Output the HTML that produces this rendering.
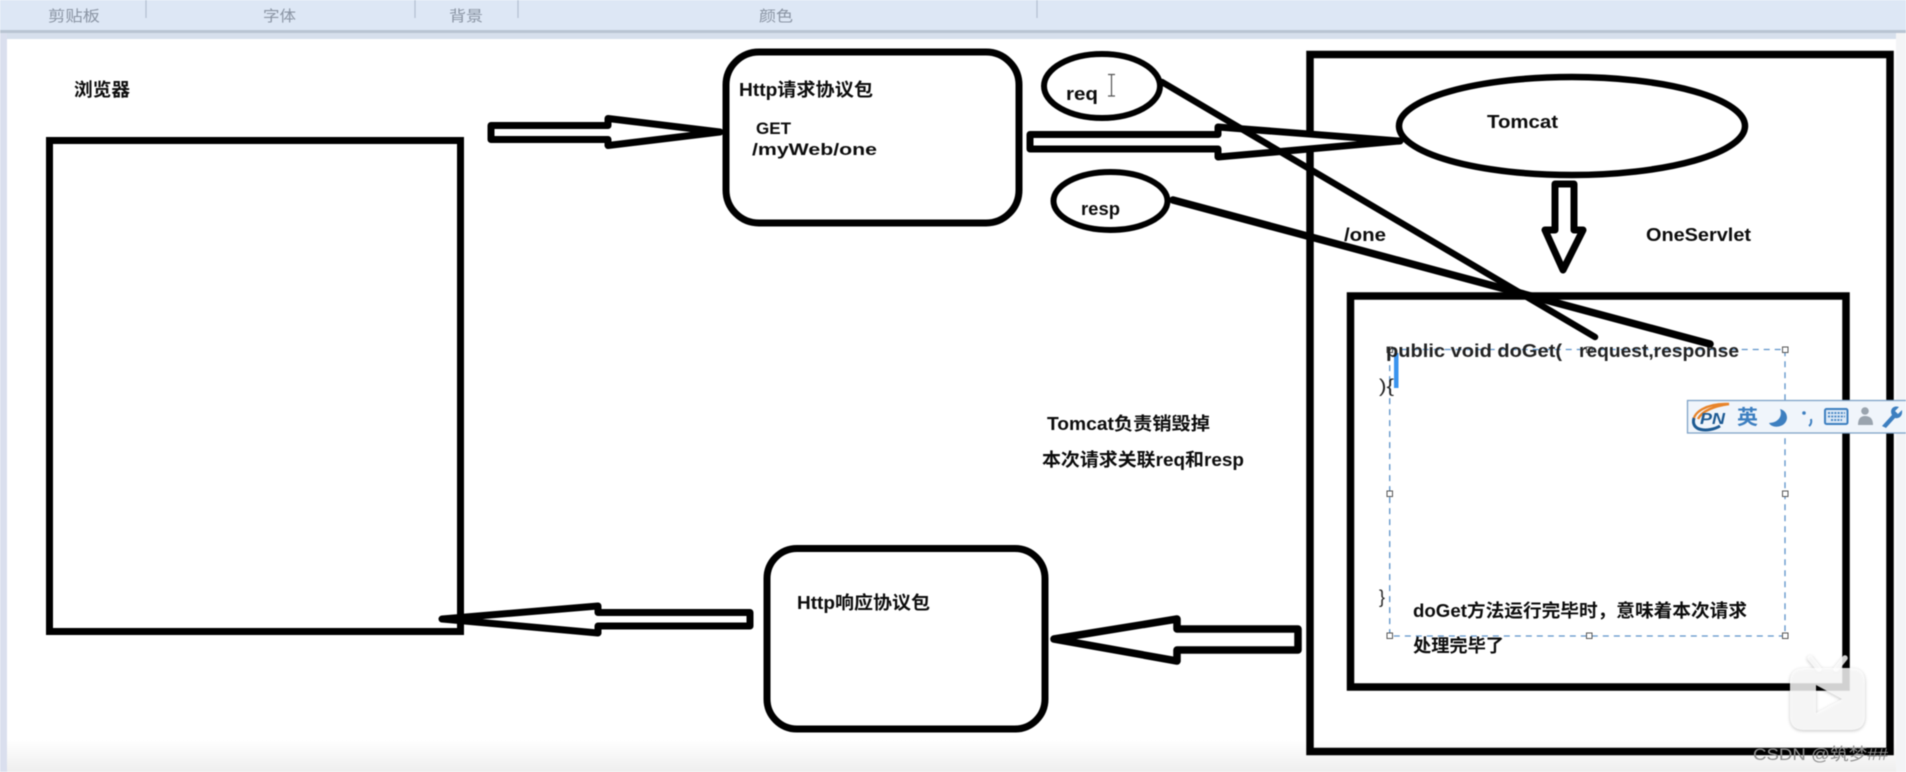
<!DOCTYPE html>
<html><head><meta charset="utf-8">
<style>
html,body{margin:0;padding:0;width:1906px;height:772px;overflow:hidden;background:#fff}
svg{display:block;filter:blur(0.5px)}
text{font-family:"Liberation Sans","Noto Sans CJK SC",sans-serif;font-weight:bold;fill:#0c0c0c;font-size:18px}
.t{font-weight:normal;fill:#8a94a3;font-size:15px}
</style></head><body>
<svg width="1906" height="772" viewBox="0 0 1906 772" xmlns="http://www.w3.org/2000/svg">
<defs><linearGradient id="bot" x1="0" y1="0" x2="0" y2="1"><stop offset="0" stop-color="#fff"/><stop offset="1" stop-color="#eeeeee"/></linearGradient></defs>
<rect width="1906" height="772" fill="#fff"/>
<!-- chrome -->
<rect x="0" y="740" width="1906" height="32" fill="url(#bot)"/>
<rect x="0" y="0" width="1906" height="31" fill="#dde7f5"/>
<rect x="0" y="30" width="1906" height="3" fill="#b9c4d2"/>
<rect x="0" y="33" width="1906" height="6" fill="#d6dfec"/>
<rect x="0" y="33" width="7" height="739" fill="#dadfee"/>
<rect x="1896" y="33" width="10" height="739" fill="#f3f4f6"/>
<g stroke="#b4c0d0" stroke-width="1.2"><line x1="146" y1="0" x2="146" y2="18"/><line x1="415" y1="0" x2="415" y2="18"/><line x1="518" y1="0" x2="518" y2="18"/><line x1="1037" y1="0" x2="1037" y2="18"/></g>
<text class="t" x="48" y="21" textLength="52" lengthAdjust="spacingAndGlyphs">剪贴板</text>
<text class="t" x="263" y="21" textLength="33" lengthAdjust="spacingAndGlyphs">字体</text>
<text class="t" x="449" y="21" textLength="34" lengthAdjust="spacingAndGlyphs">背景</text>
<text class="t" x="759" y="21" textLength="34" lengthAdjust="spacingAndGlyphs">颜色</text>

<g fill="none" stroke="#000" stroke-linejoin="round">
<rect x="49.5" y="140.5" width="411" height="491" stroke-width="7" stroke-linejoin="miter"/>
<rect x="1310" y="54.5" width="580" height="697" stroke-width="7.5" stroke-linejoin="miter"/>
<rect x="1350.5" y="296" width="495.5" height="391" stroke-width="7.5" stroke-linejoin="miter"/>
<rect x="726" y="52" width="293" height="171" rx="33" stroke-width="7"/>
<rect x="767" y="548.5" width="278" height="180.5" rx="30" stroke-width="7"/>
<path fill="#fff" d="M491 125.5H608V118.5L720 132L608 145.5V139.5H491Z" stroke-width="7"/>
<path fill="#fff" d="M1030 134.5H1218V127L1400 141L1218 157V149H1030Z" stroke-width="7"/>
<path fill="#fff" d="M1555 184H1574V230H1583L1563 270L1545 230H1555Z" stroke-width="7"/>
<path fill="#fff" d="M750 612.5H598V606L442 619L598 633V626H750Z" stroke-width="7"/>
<path fill="#fff" d="M1298 629H1177V619L1054 639L1177 661V650H1298Z" stroke-width="7.5"/>
<ellipse cx="1102" cy="86" rx="58" ry="32" stroke-width="6"/>
<ellipse cx="1110.5" cy="201" rx="57" ry="29" stroke-width="6"/>
<ellipse cx="1572" cy="126" rx="173" ry="49" stroke-width="6.5"/>
</g>
<line x1="1162" y1="82" x2="1595" y2="337" stroke="#000" stroke-width="6.5" stroke-linecap="round"/>
<line x1="1173" y1="200" x2="1710" y2="344" stroke="#000" stroke-width="7.5" stroke-linecap="round"/>

<!-- selection (under text) -->
<rect x="1394" y="353" width="4.5" height="35" fill="#3a93ee"/>
<rect x="1389.7" y="349.5" width="395.3" height="286.5" fill="none" stroke="#5d93c9" stroke-width="1.3" stroke-dasharray="6 5"/>
<g fill="#fff" stroke="#555" stroke-width="1">
<rect x="1387" y="347" width="5.5" height="5.5"/><rect x="1586.5" y="347" width="5.5" height="5.5"/><rect x="1782.5" y="347" width="5.5" height="5.5"/>
<rect x="1387" y="491" width="5.5" height="5.5"/><rect x="1782.5" y="491" width="5.5" height="5.5"/>
<rect x="1387" y="633" width="5.5" height="5.5"/><rect x="1586.5" y="633" width="5.5" height="5.5"/><rect x="1782.5" y="633" width="5.5" height="5.5"/>
</g>

<!-- labels -->
<text x="74" y="96" textLength="56" lengthAdjust="spacingAndGlyphs">浏览器</text>
<text x="739" y="96" textLength="134" lengthAdjust="spacingAndGlyphs">Http请求协议包</text>
<text x="756" y="134" textLength="35" lengthAdjust="spacingAndGlyphs" style="font-size:17px">GET</text>
<text x="752" y="155" textLength="125" lengthAdjust="spacingAndGlyphs" style="font-size:17px">/myWeb/one</text>
<text x="1066" y="100" textLength="32" lengthAdjust="spacingAndGlyphs">req</text>
<text x="1081" y="215" textLength="39" lengthAdjust="spacingAndGlyphs">resp</text>
<text x="1487" y="128" textLength="71" lengthAdjust="spacingAndGlyphs">Tomcat</text>
<text x="1344" y="241" textLength="42" lengthAdjust="spacingAndGlyphs">/one</text>
<text x="1646" y="241" textLength="105" lengthAdjust="spacingAndGlyphs">OneServlet</text>
<text x="1047" y="430" textLength="163" lengthAdjust="spacingAndGlyphs">Tomcat负责销毁掉</text>
<text x="1042" y="466" textLength="202" lengthAdjust="spacingAndGlyphs">本次请求关联req和resp</text>
<text x="797" y="609" textLength="133" lengthAdjust="spacingAndGlyphs">Http响应协议包</text>
<text x="1386" y="357" textLength="176" lengthAdjust="spacingAndGlyphs" style="fill:#222">public void doGet(</text>
<text x="1579" y="357" textLength="160" lengthAdjust="spacingAndGlyphs" style="fill:#222">request,response</text>
<text x="1379" y="392" textLength="15" lengthAdjust="spacingAndGlyphs" style="font-weight:normal;fill:#222">){</text>
<text x="1379" y="603" style="font-weight:normal;fill:#222">}</text>
<text x="1413" y="617" textLength="334" lengthAdjust="spacingAndGlyphs">doGet方法运行完毕时，意味着本次请求</text>
<text x="1413" y="652" textLength="91" lengthAdjust="spacingAndGlyphs">处理完毕了</text>

<!-- I-beam -->
<path d="M1108 74.5H1115M1111.5 74.5V96M1108 96H1115" stroke="#555" stroke-width="1.2" fill="none"/>

<!-- IME bar -->
<rect x="1687.5" y="400.5" width="220" height="32.5" fill="#f0f5fb" stroke="#7fa3c8" stroke-width="1.3"/>
<path d="M1694 425C1690 412 1708 403 1729 404C1714 406 1702 411 1698 419" fill="none" stroke="#e8842a" stroke-width="2.4"/>
<path d="M1694 418C1690 431 1708 433 1720 426" fill="none" stroke="#1d5a93" stroke-width="3"/>
<text x="1700" y="424" style="font-size:16px;font-style:italic;fill:#1d5a93" textLength="25" lengthAdjust="spacingAndGlyphs">PN</text>
<text x="1737" y="424" style="font-size:20px;fill:#3d7fc0" textLength="21" lengthAdjust="spacingAndGlyphs">英</text>
<path d="M1780 409C1783 416 1778 423 1769 423C1772 429 1786 428 1787 418C1787 413 1784 410 1780 409Z" fill="#3d7fc0"/>
<circle cx="1804" cy="413" r="1.8" fill="#3d7fc0"/><path d="M1811 419Q1812 424 1809 426" stroke="#3d7fc0" stroke-width="2" fill="none"/>
<rect x="1825" y="409" width="22.5" height="15" rx="1.5" fill="#dbe8f6" stroke="#3d7fc0" stroke-width="2"/>
<path d="M1828 413H1845M1828 416.5H1845M1831 420H1842" stroke="#3d7fc0" stroke-width="1.8" stroke-dasharray="2 1.2"/>
<circle cx="1865" cy="411" r="3.8" fill="#9aa4ae"/><path d="M1858 425Q1858 416 1865 416Q1873 416 1873 425Z" fill="#9aa4ae"/>
<path d="M1882 426L1892 415C1889 409 1894 405 1899 407L1895 411L1898 414L1902 410C1903 416 1899 419 1895 418L1886 428Z" fill="#3d7fc0"/>

<!-- watermark -->
<g style="filter:drop-shadow(0 1px 1.5px rgba(0,0,0,.28))">
<g opacity=".82" fill="none" stroke="#fff">
<path d="M1810 658L1819 669M1845 658L1836 669" stroke-width="5.5" stroke-linecap="round"/>
</g>
<path fill-rule="evenodd" fill="#fff" opacity=".82" d="M1804 668H1851Q1865 668 1865 682V716Q1865 730 1851 730H1804Q1790 730 1790 716V682Q1790 668 1804 668ZM1816 685V713L1842 699Z"/>
</g>
<text x="1753" y="760" textLength="135" lengthAdjust="spacingAndGlyphs" style="font-weight:normal;fill:#8f8f8f;font-size:17px">CSDN @筑梦##</text>
</svg>
</body></html>
